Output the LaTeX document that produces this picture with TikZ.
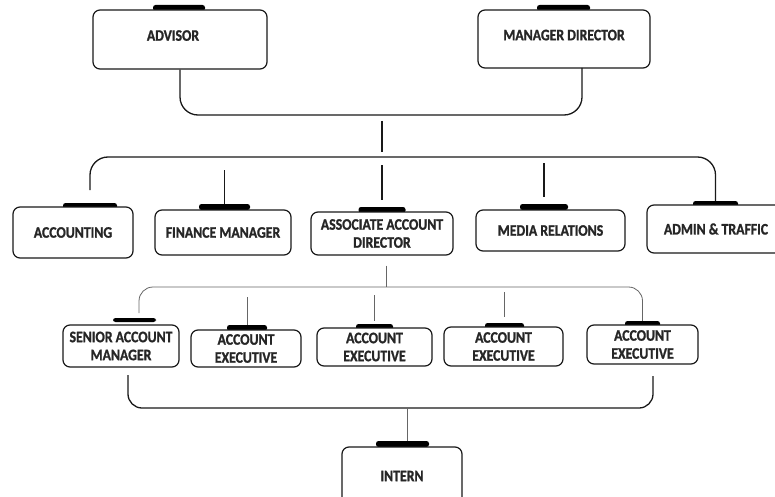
\documentclass[tikz,border=0pt]{standalone}
\usepackage{fontspec}
\setmainfont{Carlito}[FakeStretch=0.86, BoldFeatures={FakeBold=1.2}]
\usepackage{tikz}
\usetikzlibrary{calc}

\tikzset{
  box/.style={draw=black!90, line width=1.2pt, rounded corners=7pt, fill=white,
    align=center, inner sep=2pt, text=black!85,
    font=\fontsize{16}{18}\selectfont\bfseries},
  tab/.style={fill=black, rounded corners=2.5pt, inner sep=0pt, minimum height=6pt},
  link/.style={line width=1.3pt, black!90},
  thinlink/.style={line width=0.8pt, black!60},
}

\begin{document}
\begin{tikzpicture}[x=1pt, y=-1pt]
    \useasboundingbox (0,0) rectangle (775,497);
    \fill[white] (0,0) rectangle (775,497);
    % Top level
    \node[tab, minimum width=52pt] (advisortab) at (179,8) {};
    \node[tab, minimum width=53pt] (mandirtab) at (563.5,8) {};
    \node[box, minimum width=174pt, minimum height=59pt] (advisor) at (180,39.5) {\raisebox{8pt}{ADVISOR}\hspace{14pt}};
    \node[box, minimum width=172pt, minimum height=58pt] (mandir) at (564,39) {\raisebox{8pt}{MANAGER DIRECTOR}};
    % Departments
    \node[tab, minimum width=54pt] (accttab) at (90,206) {};
    \node[tab, minimum width=51pt] (finmgrtab) at (224.5,207) {};
    \node[tab, minimum width=47pt] (assocdirtab) at (382,210) {};
    \node[tab, minimum width=48pt] (mediatab) at (544,207) {};
    \node[tab, minimum width=45pt] (admintab) at (715.5,204) {};
    \node[box, minimum width=120pt, minimum height=51pt] (acct) at (73,232.5) {ACCOUNTING};
    \node[box, minimum width=136pt, minimum height=45pt] (finmgr) at (223,232.5) {FINANCE MANAGER};
    \node[box, minimum width=142pt, minimum height=43pt] (assocdir) at (382,233.5) {ASSOCIATE ACCOUNT\\DIRECTOR};
    \node[box, minimum width=149pt, minimum height=41pt] (media) at (550.5,230.5) {MEDIA RELATIONS};
    \node[box, minimum width=138pt, minimum height=48pt] (admin) at (716,229) {ADMIN \& TRAFFIC};
    % Account team
    \node[tab, minimum width=43pt, minimum height=4pt] (seniormtab) at (134.5,320) {};
    \node[tab, minimum width=40pt] (acctexatab) at (247,328) {};
    \node[tab, minimum width=37pt] (acctexbtab) at (374.5,327) {};
    \node[tab, minimum width=39pt] (acctexctab) at (504.5,326) {};
    \node[tab, minimum width=35pt] (acctexdtab) at (642.5,324) {};
    \node[box, minimum width=116pt, minimum height=42pt] (seniorm) at (121,346) {SENIOR ACCOUNT\\MANAGER};
    \node[box, minimum width=110pt, minimum height=37pt] (acctexa) at (246,348.5) {ACCOUNT\\EXECUTIVE};
    \node[box, minimum width=115pt, minimum height=38pt] (acctexb) at (374.5,347) {ACCOUNT\\EXECUTIVE};
    \node[box, minimum width=119pt, minimum height=39pt] (acctexc) at (503.5,346.5) {ACCOUNT\\EXECUTIVE};
    \node[box, minimum width=111pt, minimum height=39pt] (acctexd) at (642.5,344.5) {ACCOUNT\\EXECUTIVE};
    % Intern
    \node[tab, minimum width=53pt] (interntab) at (402.5,444) {};
    \node[box, minimum width=120pt, minimum height=58pt] (intern) at (402,476) {INTERN};
    % Join points
    \coordinate (topjoin) at (382,115);
    \coordinate (mandirout) at (582,68);
    \coordinate (midjoin) at (382,157);
    \coordinate (acctend) at (90,190);
    \coordinate (lowjoin) at (386,287);
    \coordinate (seniormend) at (139,313);
    \coordinate (botleft) at (128,375);
    \coordinate (botjoin) at (407,408);
    \coordinate (botright) at (653,376);
    % Connectors
    \draw[link, rounded corners=18pt] (advisor.south) |- (topjoin) -| (mandirout);
    \draw[link, shorten <=6pt, shorten >=5pt] (topjoin) -- (midjoin);
    \draw[link, rounded corners=18pt] (acctend) |- (midjoin) -| (admintab.north);
    \draw[link, shorten <=13pt] (finmgrtab.north |- midjoin) -- (finmgrtab.north);
    \draw[link, shorten <=8pt, shorten >=7pt] (assocdirtab.north |- midjoin) -- (assocdirtab.north);
    \draw[link, shorten <=6pt, shorten >=7pt] (mediatab.north |- midjoin) -- (mediatab.north);
    \draw[thinlink, shorten <=10pt] (assocdir.south -| lowjoin) -- (lowjoin);
    \draw[thinlink, rounded corners=14pt] (seniormend) |- (lowjoin) -| (acctexdtab.north);
    \draw[thinlink, shorten <=10pt] (acctexatab.north |- lowjoin) -- (acctexatab.north);
    \draw[thinlink, shorten <=8pt, shorten >=3pt] (acctexbtab.north |- lowjoin) -- (acctexbtab.north);
    \draw[thinlink, shorten <=5pt, shorten >=6pt] (acctexctab.north |- lowjoin) -- (acctexctab.north);
    \draw[link, rounded corners=14pt] (botleft) |- (botjoin) -| (botright);
    \draw[thinlink] (botjoin) -- (botjoin |- interntab.north);
\end{tikzpicture}
\end{document}
